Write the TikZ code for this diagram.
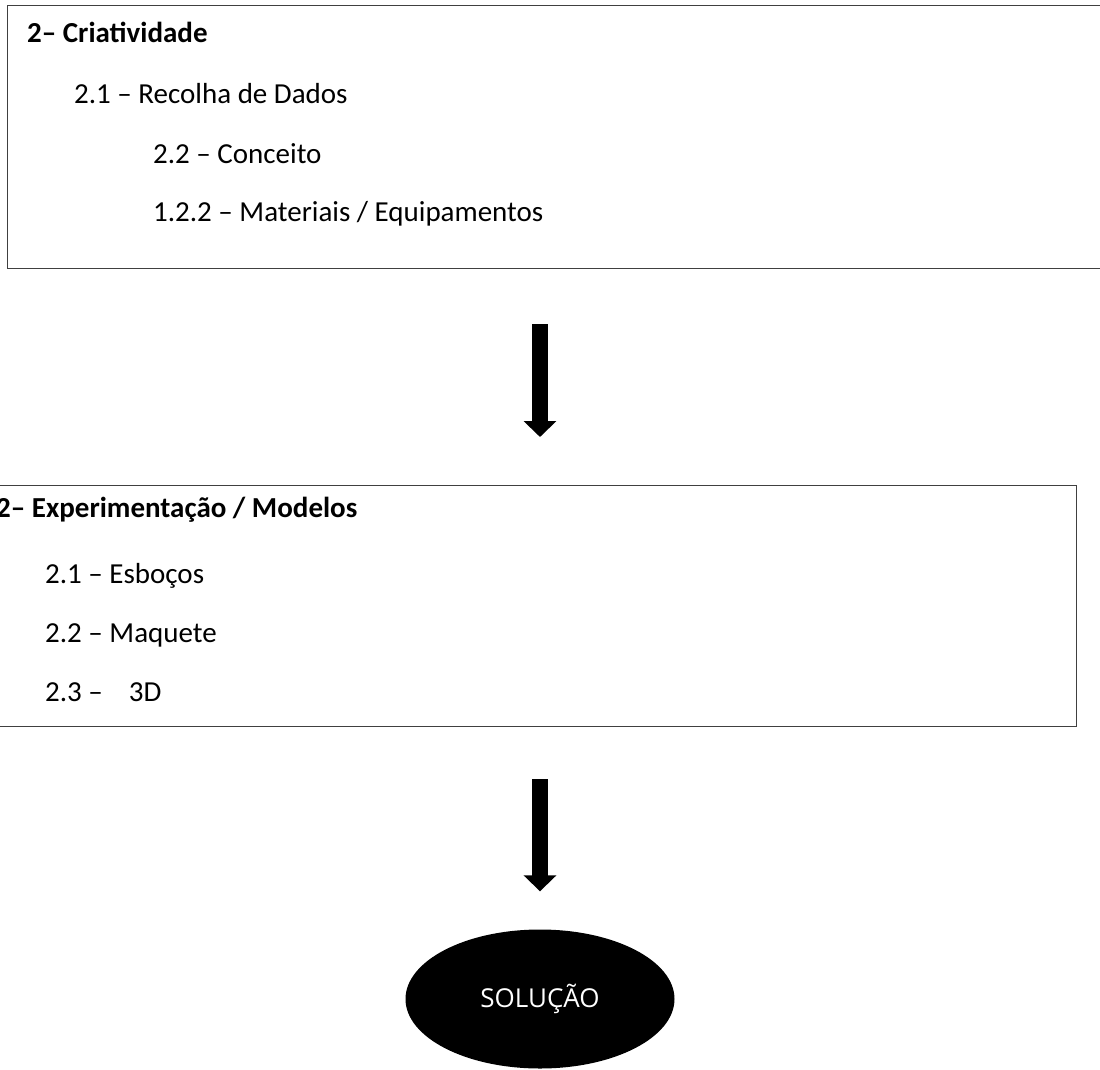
\documentclass[tikz,border=0pt]{standalone}
\usepackage{fontspec}
\setmainfont{Carlito}
\newfontfamily\solfont{Open Sans}
\usetikzlibrary{arrows.meta,shapes.geometric}

\begin{document}
\begin{tikzpicture}[x=1pt,y=-1pt,
  frame/.style={draw=black!75,line width=1.4pt,inner sep=0pt},
  entry/.style={anchor=base west,inner sep=0pt,font=\fontsize{29}{35}\selectfont},
  heading/.style={entry,font=\fontsize{29}{35}\selectfont\bfseries},
  bigarrow/.style={line width=16pt,-{Triangle[width=32pt,length=16pt]}}]
\useasboundingbox (0,0) rectangle (1100,1070); % adjust bounding box
\node[frame,anchor=north west,minimum width=1113pt,minimum height=263pt] (crit) at (7,5) {};
\node[heading] (crit0) at (27,43)  {2– Criatividade};
\node[entry]   (crit1) at (74,104) {2.1 – Recolha de Dados};
\node[entry]   (crit2) at (153,163) {2.2 – Conceito};
\node[entry]   (crit3) at (153,221) {1.2.2 – Materiais / Equipamentos};
\node[frame,anchor=north east,minimum width=1101pt,minimum height=241pt] (exp) at (1077,485) {};
\node[heading] (exp0) at (-4,517) {2– Experimentação / Modelos};
\node[entry]   (exp1) at (45,583) {2.1 – Esboços};
\node[entry]   (exp2) at (45,642) {2.2 – Maquete};
\node[entry]   (exp3) at (45,701) {2.3 –\hspace{26pt}3D};
\node[ellipse,fill=black,minimum width=269pt,minimum height=139pt,inner sep=0pt,
  text=white,font=\solfont\fontsize{26}{30}\selectfont] (sol) at (540,999) {SOLUÇÃO};
\draw[bigarrow,shorten <=55pt,shorten >=48pt] (crit.south -| sol) -- (exp.north -| sol);
\draw[bigarrow,shorten <=52pt,shorten >=38pt] (exp.south -| sol) -- (sol.north);
\end{tikzpicture}
\end{document}
